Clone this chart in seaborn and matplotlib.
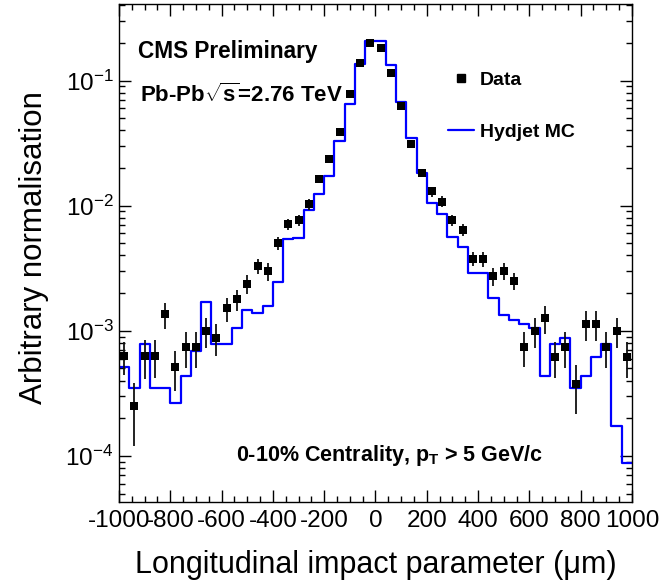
import numpy as np
import pandas as pd
import matplotlib
matplotlib.use("Agg")
import matplotlib.pyplot as plt
import seaborn as sns
from matplotlib.ticker import MultipleLocator, LogLocator, NullFormatter, FuncFormatter
from matplotlib.lines import Line2D

# ---- data ----
bin_edges = list(range(-1000, 1001, 40))
bin_centers = [-980, -940, -900, -860, -820, -780, -740, -700, -660, -620,
               -580, -540, -500, -460, -420, -380, -340, -300, -260, -220,
               -180, -140, -100, -60, -20, 20, 60, 100, 140, 180,
               220, 260, 300, 340, 380, 420, 460, 500, 540, 580,
               620, 660, 700, 740, 780, 820, 860, 900, 940, 980]

data_values = [6.3e-4, 2.5e-4, 6.3e-4, 6.3e-4, 1.36e-3, 5.1e-4, 7.45e-4, 7.45e-4, 1.0e-3, 8.8e-4,
               1.51e-3, 1.78e-3, 2.37e-3, 3.31e-3, 3.0e-3, 5.06e-3, 7.1e-3, 7.7e-3, 1.03e-2, 1.64e-2,
               2.36e-2, 3.9e-2, 7.8e-2, 0.138, 0.199, 0.184, 0.115, 6.28e-2, 3.1e-2, 1.84e-2,
               1.3e-2, 1.08e-2, 7.7e-3, 6.4e-3, 3.77e-3, 3.73e-3, 2.75e-3, 3.02e-3, 2.5e-3, 7.45e-4,
               1.0e-3, 1.26e-3, 6.2e-4, 7.45e-4, 3.75e-4, 1.13e-3, 1.13e-3, 7.45e-4, 1.0e-3, 6.2e-4]

data_errors = [1.9e-4, 1.3e-4, 2.2e-4, 2.1e-4, 3.2e-4, 1.8e-4, 2.4e-4, 2.4e-4, 2.7e-4, 2.5e-4,
               3.3e-4, 3.3e-4, 4.0e-4, 4.5e-4, 5.0e-4, 6.0e-4, 7.0e-4, 8.0e-4, 1.0e-3, 1.2e-3,
               1.5e-3, 2.0e-3, 3.0e-3, 4.0e-3, 5.0e-3, 5.0e-3, 4.0e-3, 3.0e-3, 2.0e-3, 1.4e-3,
               1.2e-3, 1.1e-3, 8.0e-4, 7.0e-4, 5.0e-4, 5.0e-4, 4.5e-4, 4.5e-4, 4.0e-4, 2.3e-4,
               2.7e-4, 3.1e-4, 2.0e-4, 2.4e-4, 1.6e-4, 3.0e-4, 3.0e-4, 2.4e-4, 2.7e-4, 2.0e-4]

mc_values = [5.15e-4, 3.5e-4, 7.83e-4, 3.5e-4, 3.5e-4, 2.63e-4, 4.34e-4, 6.92e-4, 1.69e-3, 7.83e-4,
             7.83e-4, 1.05e-3, 1.48e-3, 1.40e-3, 1.58e-3, 2.44e-3, 5.4e-3, 5.48e-3, 9.24e-3, 1.23e-2,
             1.74e-2, 3.31e-2, 6.47e-2, 0.135, 0.209, 0.209, 0.134, 6.71e-2, 3.46e-2, 1.82e-2,
             1.06e-2, 8.59e-3, 5.58e-3, 4.7e-3, 2.91e-3, 2.91e-3, 1.82e-3, 1.33e-3, 1.23e-3, 1.13e-3,
             1.05e-3, 4.34e-4, 7.83e-4, 8.7e-4, 3.5e-4, 4.34e-4, 6.12e-4, 7.83e-4, 1.73e-4, 8.7e-5]

x_ticks = [-1000, -800, -600, -400, -200, 0, 200, 400, 600, 800, 1000]

# ---- style ----
sns.set_theme(style="ticks")
plt.rcParams['font.family'] = ['Liberation Sans', 'DejaVu Sans']
plt.rcParams['mathtext.fontset'] = 'custom'
plt.rcParams['mathtext.rm'] = 'Liberation Sans'
plt.rcParams['mathtext.it'] = 'Liberation Sans:italic'
plt.rcParams['mathtext.bf'] = 'Liberation Sans:bold'
plt.rcParams['mathtext.default'] = 'regular'
plt.rcParams['axes.unicode_minus'] = False
plt.rcParams['text.color'] = 'black'
plt.rcParams['axes.labelcolor'] = 'black'
plt.rcParams['xtick.color'] = 'black'
plt.rcParams['ytick.color'] = 'black'
plt.rcParams['xtick.labelcolor'] = 'black'
plt.rcParams['ytick.labelcolor'] = 'black'

fig = plt.figure(figsize=(6.63, 5.87), dpi=100)
fig.patch.set_facecolor('white')
ax = fig.add_axes([0.1795, 0.1453, 0.7737, 0.8474])
ax.set_facecolor('white')

df_mc = pd.DataFrame({"z": bin_centers, "w": mc_values})
sns.histplot(data=df_mc, x="z", weights="w", bins=bin_edges, element="step",
             fill=False, color="#0000ff", linewidth=1.6, ax=ax)

df_data = pd.DataFrame({"z": bin_centers, "v": data_values, "e": data_errors})
ax.errorbar(df_data["z"], df_data["v"], yerr=df_data["e"], fmt='none',
            ecolor='#111111', elinewidth=1.3, capsize=0, zorder=3)
sns.scatterplot(data=df_data, x="z", y="v", marker='s', color='black', s=36,
                edgecolor='black', linewidth=0, ax=ax, zorder=4)

ax.set_yscale('log')
ax.set_xlim(-1000, 1000)
ax.set_ylim(4.3e-5, 0.408)

# ticks
ax.xaxis.set_major_locator(matplotlib.ticker.FixedLocator(x_ticks))
ax.xaxis.set_minor_locator(MultipleLocator(50))
ax.set_xticklabels([str(t) for t in x_ticks])
ax.yaxis.set_major_locator(LogLocator(base=10, numticks=12))
ax.yaxis.set_minor_locator(LogLocator(base=10, subs=np.arange(2, 10), numticks=12))
ax.yaxis.set_minor_formatter(NullFormatter())
ax.yaxis.set_major_formatter(FuncFormatter(lambda v, p: "10$^{%d}$" % int(round(np.log10(v)))))

ax.tick_params(which='both', direction='in', top=True, right=True, color='black', width=1.0)
ax.tick_params(which='major', length=8.8)
ax.tick_params(which='minor', length=4.6)
ax.tick_params(axis='x', which='major', labelsize=17.5, pad=6)
ax.tick_params(axis='y', which='major', labelsize=17.5, pad=4)
for sp in ax.spines.values():
    sp.set_color('black')
    sp.set_linewidth(1.0)
    sp.set_visible(True)

ax.set_xlabel("Longitudinal impact parameter (μm)", fontsize=22, color='black')
ax.set_ylabel("Arbitrary normalisation", fontsize=22.5, color='black')
ax.xaxis.set_label_coords(0.5, -0.097)
ax.yaxis.set_label_coords(-0.137, 0.51)

# texts
ax.text(0.0376, 0.893, "CMS Preliminary", transform=ax.transAxes, fontsize=16.3,
        fontweight='bold', ha='left', va='baseline', color='black')
ax.text(0.041, 0.8045, r"Pb-Pb$\mathbf{\sqrt{s}}$=2.76 TeV", transform=ax.transAxes,
        fontsize=16, fontweight='bold', ha='left', va='baseline', color='black')
ax.text(0.228, 0.082, r"0-10% Centrality, $\mathbf{p_{T}}$ > 5 GeV/c", transform=ax.transAxes,
        fontsize=15.5, fontweight='bold', ha='left', va='baseline', color='black')

handles = [Line2D([], [], marker='s', color='black', ls='none', markersize=6),
           Line2D([], [], color='#0000ff', lw=1.6)]
leg = ax.legend(handles, ["Data", "Hydjet MC"], loc='upper left', bbox_to_anchor=(0.641, 0.866),
                frameon=False, prop={'weight': 'bold', 'size': 14}, handlelength=1.37,
                handletextpad=0.26, labelspacing=1.78, borderpad=0, borderaxespad=0)
for t in leg.get_texts():
    t.set_color('black')

fig.savefig("out.png", dpi=100, facecolor='white')
